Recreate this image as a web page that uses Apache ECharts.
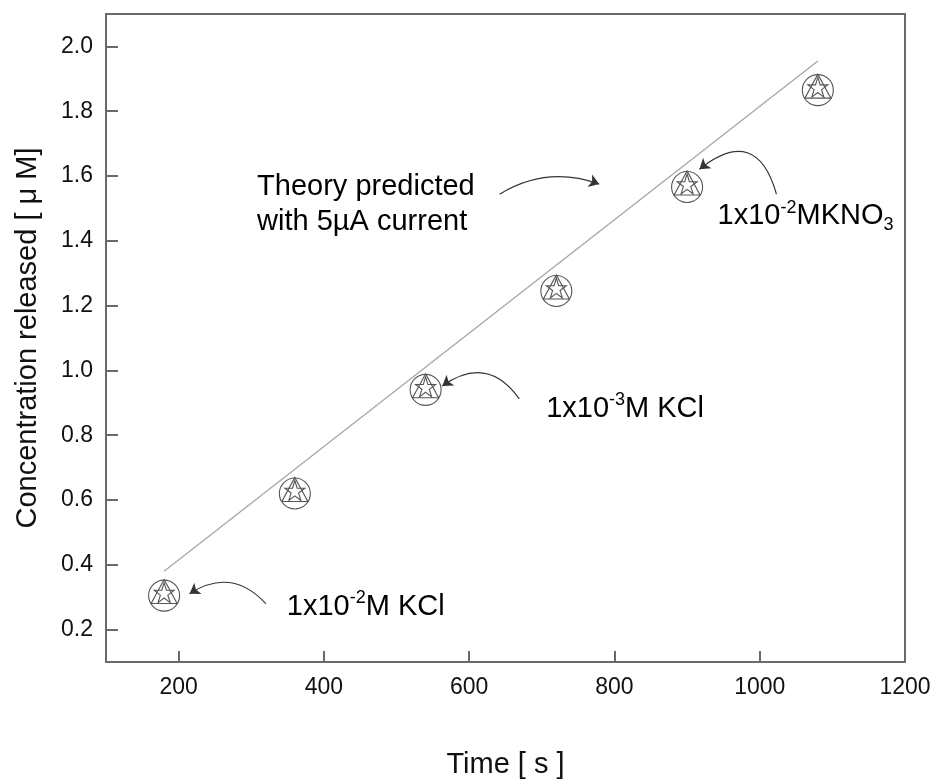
<!DOCTYPE html>
<html>
<head>
<meta charset="utf-8">
<script src="https://cdn.jsdelivr.net/npm/echarts@6/dist/echarts.min.js"></script>
<style>
  html, body { margin: 0; padding: 0; background: #fff; }
  #chart { width: 940px; height: 784px; }
</style>
</head>
<body>
<div id="chart"></div>
<script>
// measured release times (s) and concentrations (uM)
const times = [180, 360, 540, 720, 900, 1080]
const released = [0.305, 0.62, 0.94, 1.245, 1.566, 1.865]
// theory line, 5 uA current
const theoryX = [180, 1080]
const theoryY = [0.38, 1.955]

const xTicks = [200, 400, 600, 800, 1000, 1200]
const yTicks = [0.2, 0.4, 0.6, 0.8, 1.0, 1.2, 1.4, 1.6, 1.8, 2.0]

// annotation arrows [from, to] in data units, and label anchors
const arrows = [
    { from: [642, 1.544], to: [779, 1.575], curve: 0.24 },
    { from: [320, 0.280], to: [215, 0.311], curve: -0.42 },
    { from: [669, 0.912], to: [563, 0.952], curve: -0.5 },
    { from: [1023, 1.544], to: [917, 1.621], curve: -0.75 }
]
const notes = [
    { at: [308, 1.513], text: 'Theory predicted\nwith 5\u00b5A current' },
    { at: [349, 0.271], text: '1x10{sup|-2}M KCl' },
    { at: [706, 0.881], text: '1x10{sup|-3}M KCl' },
    { at: [942, 1.476], text: '1x10{sup|-2}MKNO{sub|3}' }
]

const starPath = 'path://M50,0 L61,35 L98,35 L68,57 L79,91 L50,70 L21,91 L32,57 L2,35 L39,35 Z'
const font = '"Liberation Sans", Arial, Helvetica, sans-serif'
const gray = '#6a6a6a'

const markerStyle = {
    color: 'rgba(0,0,0,0)',
    borderColor: '#555',
    borderWidth: 1.1,
    opacity: 1
}

const chart = echarts.init(document.getElementById('chart'))

chart.setOption({
    animation: false,
    textStyle: { fontFamily: font },
    grid: {
        left: 106, right: 35, top: 14, bottom: 122,
        show: true, borderColor: gray, borderWidth: 2
    },
    xAxis: {
        type: 'value',
        min: 100,
        max: 1200,
        name: 'Time [ s ]',
        nameLocation: 'middle',
        nameGap: 88,
        nameTextStyle: { fontSize: 29, color: '#111', fontFamily: font },
        axisLine: { lineStyle: { color: gray, width: 2 } },
        axisTick: { inside: true, length: 11, customValues: xTicks, lineStyle: { color: gray, width: 2 } },
        axisLabel: {
            customValues: xTicks, fontSize: 23, color: '#111', margin: 14, fontFamily: font,
            formatter: v => String(v)
        },
        splitLine: { show: false }
    },
    yAxis: {
        type: 'value',
        min: 0.1,
        max: 2.1,
        name: 'Concentration released [ \u03bc M]',
        nameLocation: 'middle',
        nameGap: 64,
        nameTextStyle: { fontSize: 29, color: '#111', fontFamily: font },
        axisLine: { lineStyle: { color: gray, width: 2 } },
        axisTick: { inside: true, length: 12, customValues: yTicks, lineStyle: { color: gray, width: 2 } },
        axisLabel: {
            customValues: yTicks, fontSize: 23, color: '#111', margin: 13, fontFamily: font,
            formatter: v => v.toFixed(1)
        },
        splitLine: { show: false }
    },
    series: [
        {
            name: 'theory',
            type: 'line',
            data: theoryX.map((x, i) => [x, theoryY[i]]),
            showSymbol: false,
            lineStyle: { color: '#aaa', width: 1.5 },
            z: 1
        },
        {
            name: 'circle',
            type: 'scatter',
            data: times.map((t, i) => [t, released[i]]),
            symbol: 'circle',
            symbolSize: 31,
            itemStyle: markerStyle
        },
        {
            name: 'triangle',
            type: 'scatter',
            data: times.map((t, i) => [t, released[i]]),
            symbol: 'triangle',
            symbolSize: [26, 24],
            symbolOffset: [0, -4],
            itemStyle: markerStyle
        },
        {
            name: 'star',
            type: 'scatter',
            data: times.map((t, i) => [t, released[i]]),
            symbol: starPath,
            symbolSize: 20,
            symbolOffset: [0, -3],
            itemStyle: markerStyle
        },
        {
            name: 'arrows',
            type: 'lines',
            coordinateSystem: 'cartesian2d',
            silent: true,
            symbol: ['none', 'arrow'],
            symbolSize: 10,
            lineStyle: { color: '#333', width: 1.2, opacity: 1 },
            data: arrows.map(a => ({
                coords: [a.from, a.to],
                lineStyle: { curveness: a.curve }
            }))
        },
        {
            name: 'notes',
            type: 'scatter',
            symbolSize: 0,
            silent: true,
            itemStyle: { opacity: 1 },
            data: notes.map(n => ({ value: n.at, text: n.text })),
            label: {
                show: true,
                position: 'right',
                distance: 0,
                formatter: p => p.data.text,
                fontSize: 29,
                lineHeight: 35,
                color: '#000',
                textBorderWidth: 0,
                fontFamily: font,
                rich: {
                    sup: { fontSize: 18, lineHeight: 35, verticalAlign: 'top', padding: [0, 0, 14, 0], color: '#000', fontFamily: font },
                    sub: { fontSize: 18, lineHeight: 35, verticalAlign: 'bottom', padding: [14, 0, 0, 0], color: '#000', fontFamily: font }
                }
            }
        }
    ]
})
</script>
</body>
</html>
